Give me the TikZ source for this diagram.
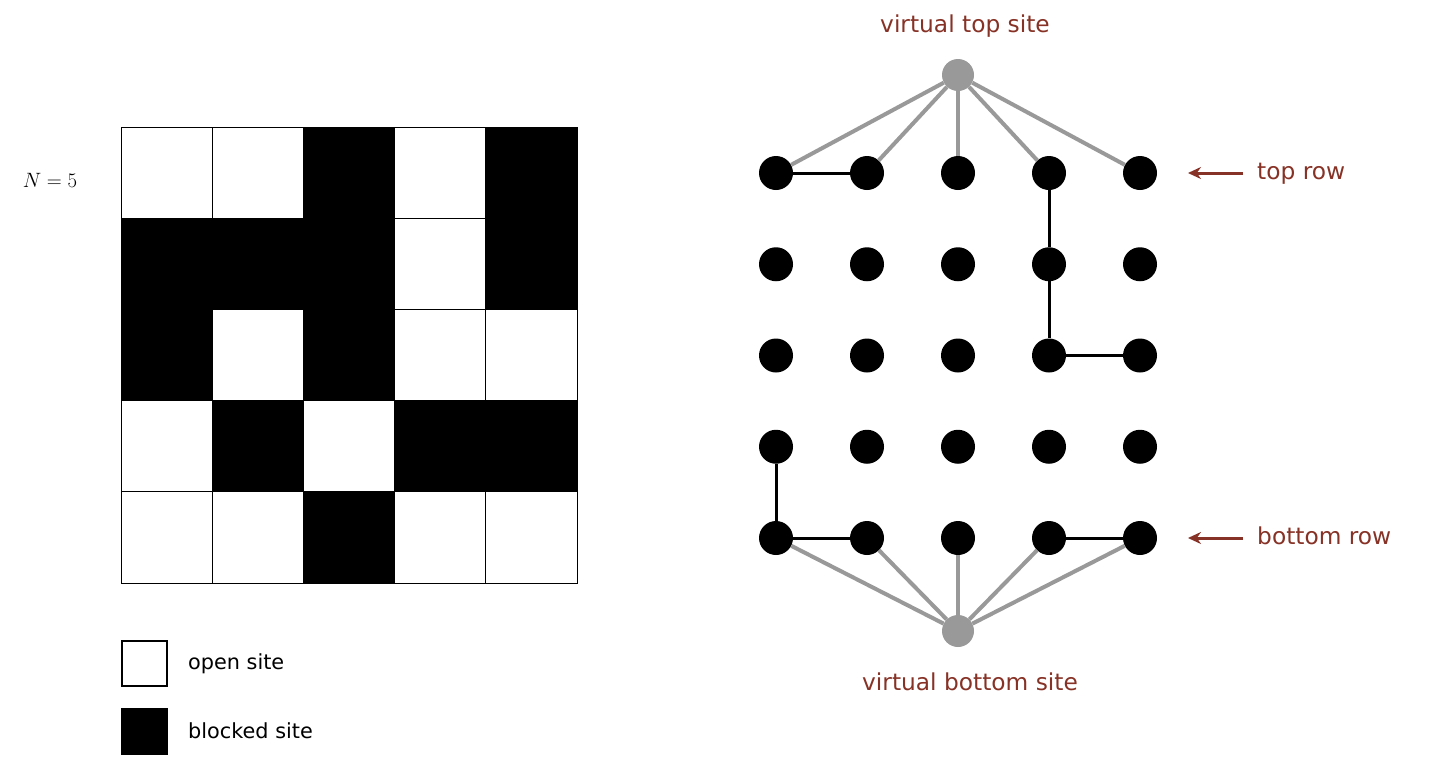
\documentclass[tikz,border=0pt]{standalone}
\usepackage{amsmath}
\usepackage{fontspec}
\setsansfont{DejaVu Sans}
\usepackage{tikz}
\usetikzlibrary{arrows.meta}

\definecolor{labelred}{RGB}{135,50,38}
\definecolor{virtualgrey}{RGB}{153,153,153}

\tikzset{
  site/.style={circle, fill=black, inner sep=0pt, minimum size=34pt},
  virtualsite/.style={circle, fill=virtualgrey, inner sep=0pt, minimum size=32pt},
  bond/.style={line width=3pt, black},
  virtualbond/.style={line width=4pt, virtualgrey},
  redtext/.style={text=labelred, font=\sffamily\fontsize{23.3}{27}\selectfont, inner sep=0pt},
  legendtext/.style={font=\sffamily\fontsize{20.8}{24}\selectfont, inner sep=0pt, anchor=base west},
  pointer/.style={draw=labelred, line width=3pt, -{Stealth[length=13pt, width=12pt]}}
}

\begin{document}
\begin{tikzpicture}[x=1pt, y=-1pt]

    \useasboundingbox (0,0) rectangle (1430,774);

    % percolation grid
    \begin{scope}[shift={(121,127)}]

      \foreach \i in {1,...,4}
        \draw[line width=1pt] (\i*91.2,0) -- (\i*91.2,456) (0,\i*91.2) -- (456,\i*91.2);

      \foreach \r/\c in {0/2,0/4,1/0,1/1,1/2,1/4,2/0,2/2,3/1,3/3,3/4,4/2}
        \fill (\c*91.2,\r*91.2) rectangle ++(91.6,91.6);

      \draw[line width=1pt] (0,0) rectangle (456,456);

    \end{scope}

    \node[anchor=base, inner sep=0pt, font=\fontsize{22}{26}\selectfont] (size) at (50,187) {$N = 5$};

    % legend
    \node[draw, line width=2pt, inner sep=0pt, minimum size=45pt] (openbox) at (144.5,663.5) {};
    \node[fill=black, inner sep=0pt, minimum size=47pt] (blockedbox) at (144.5,731.5) {};
    \node[legendtext] (opentext) at (188,669) {open site};
    \node[legendtext] (blockedtext) at (188,738) {blocked site};

    % sites
    \foreach \r in {0,...,4}
      \foreach \c in {0,...,4}
        \node[site] (s\r\c) at (776+\c*91,173+\r*91.25) {};

    \node[virtualsite] (vtop) at (958,75) {};
    \node[virtualsite] (vbottom) at (958,631) {};

    \foreach \c in {0,...,4} {
      \draw[virtualbond] (vtop) -- (s0\c);
      \draw[virtualbond] (vbottom) -- (s4\c);
    }

    \draw[bond] (s00) -- (s01);
    \draw[bond] (s03) -- (s13) -- (s23) -- (s24);
    \draw[bond] (s30) -- (s40) -- (s41);
    \draw[bond] (s43) -- (s44);

    % labels
    \node[redtext, anchor=base] (vtoptext) at (965,32) {virtual top site};
    \node[redtext, anchor=base] (vbottomtext) at (970,690) {virtual bottom site};

    \node[redtext, anchor=base west] (toprow) at (1257,179) {top row};
    \node[redtext, anchor=base west] (bottomrow) at (1257,544) {bottom row};

    \coordinate (toptip) at (1188,173);
    \coordinate (bottomtip) at (1188,538);
    \draw[pointer] ([xshift=-14pt]toprow.west |- toptip) -- (toptip);
    \draw[pointer] ([xshift=-14pt]bottomrow.west |- bottomtip) -- (bottomtip);

\end{tikzpicture}
\end{document}
